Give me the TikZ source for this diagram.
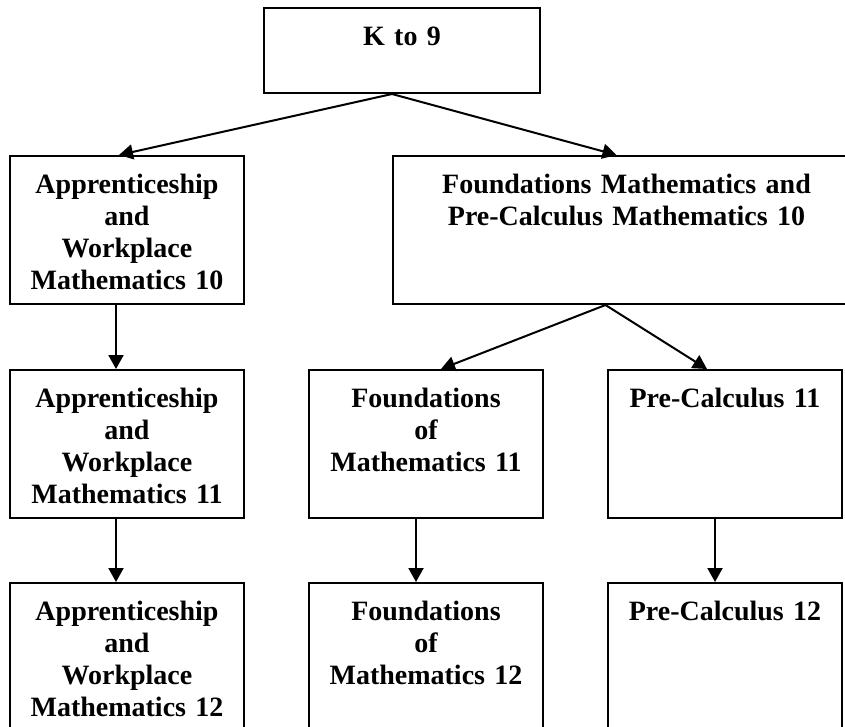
\documentclass[tikz,border=0pt]{standalone}
\usepackage{fontspec}
\setmainfont{Liberation Serif}
\usepackage{tikz}
\usetikzlibrary{shapes,arrows,positioning,calc}
\usetikzlibrary{arrows.meta}
\tikzstyle{line} = [draw, line width=2pt, -{Triangle[length=14pt,width=15pt]}]
\newcommand\crsfont{\fontsize{28}{32}\selectfont\bfseries}

\begin{document}
\begin{tikzpicture}[x=1pt,y=-1pt]

\tikzset{
    crs/.style={draw, rectangle, line width=2pt, inner sep=0pt,
      text centered, font=\crsfont, text height=37pt, text depth=111pt,
      text width=234pt},
}

  \useasboundingbox (0,0) rectangle (845,726);

  \node [crs, text width=276pt, text depth=48pt, anchor=north west]
  at (263,7) (k9) {K to 9};

  \node [crs, anchor=north west] at (9,155)
  (aw10) {Apprenticeship\\ and\\ Workplace\\ Mathematics 10};

  \node [crs, text width=467pt, right = 147pt of aw10]
  (fpc10) {Foundations Mathematics and\\ Pre-Calculus Mathematics 10};

  \node [crs, below = 64pt of aw10]
  (aw11) {Apprenticeship\\ and\\ Workplace\\ Mathematics 11};

  \node [crs, right = 63pt of aw11]
  (fm11) {Foundations\\ of\\ Mathematics 11};

  \node [crs, right = 63pt of fm11]
  (pc11) {Pre-Calculus 11};

  \node [crs, text depth=112pt, below = 63pt of aw11]
  (aw12) {Apprenticeship\\ and\\ Workplace\\ Mathematics 12};

  \node [crs, text depth=112pt, below = 63pt of fm11]
  (fm12) {Foundations\\ of\\ Mathematics 12};

  \node [crs, text depth=112pt, below = 63pt of pc11]
  (pc12) {Pre-Calculus 12};

  \path [line] ([xshift=-10pt]k9.south) -- ([xshift=-8pt]aw10.north);
  \path [line] ([xshift=-10pt]k9.south) -- ([xshift=-10pt]fpc10.north);

  \path [line] ([xshift=-21pt]fpc10.south) -- ([xshift=15pt]fm11.north);
  \path [line] ([xshift=-21pt]fpc10.south) -- ([xshift=-18pt]pc11.north);

  \path [line] ([xshift=-11pt]aw10.south) -- ([xshift=-11pt]aw11.north);
  \path [line] ([xshift=-11pt]aw11.south) -- ([xshift=-11pt]aw12.north);
  \path [line] ([xshift=-10pt]fm11.south) -- ([xshift=-10pt]fm12.north);
  \path [line] ([xshift=-10pt]pc11.south) -- ([xshift=-10pt]pc12.north);

\end{tikzpicture}
\end{document}
